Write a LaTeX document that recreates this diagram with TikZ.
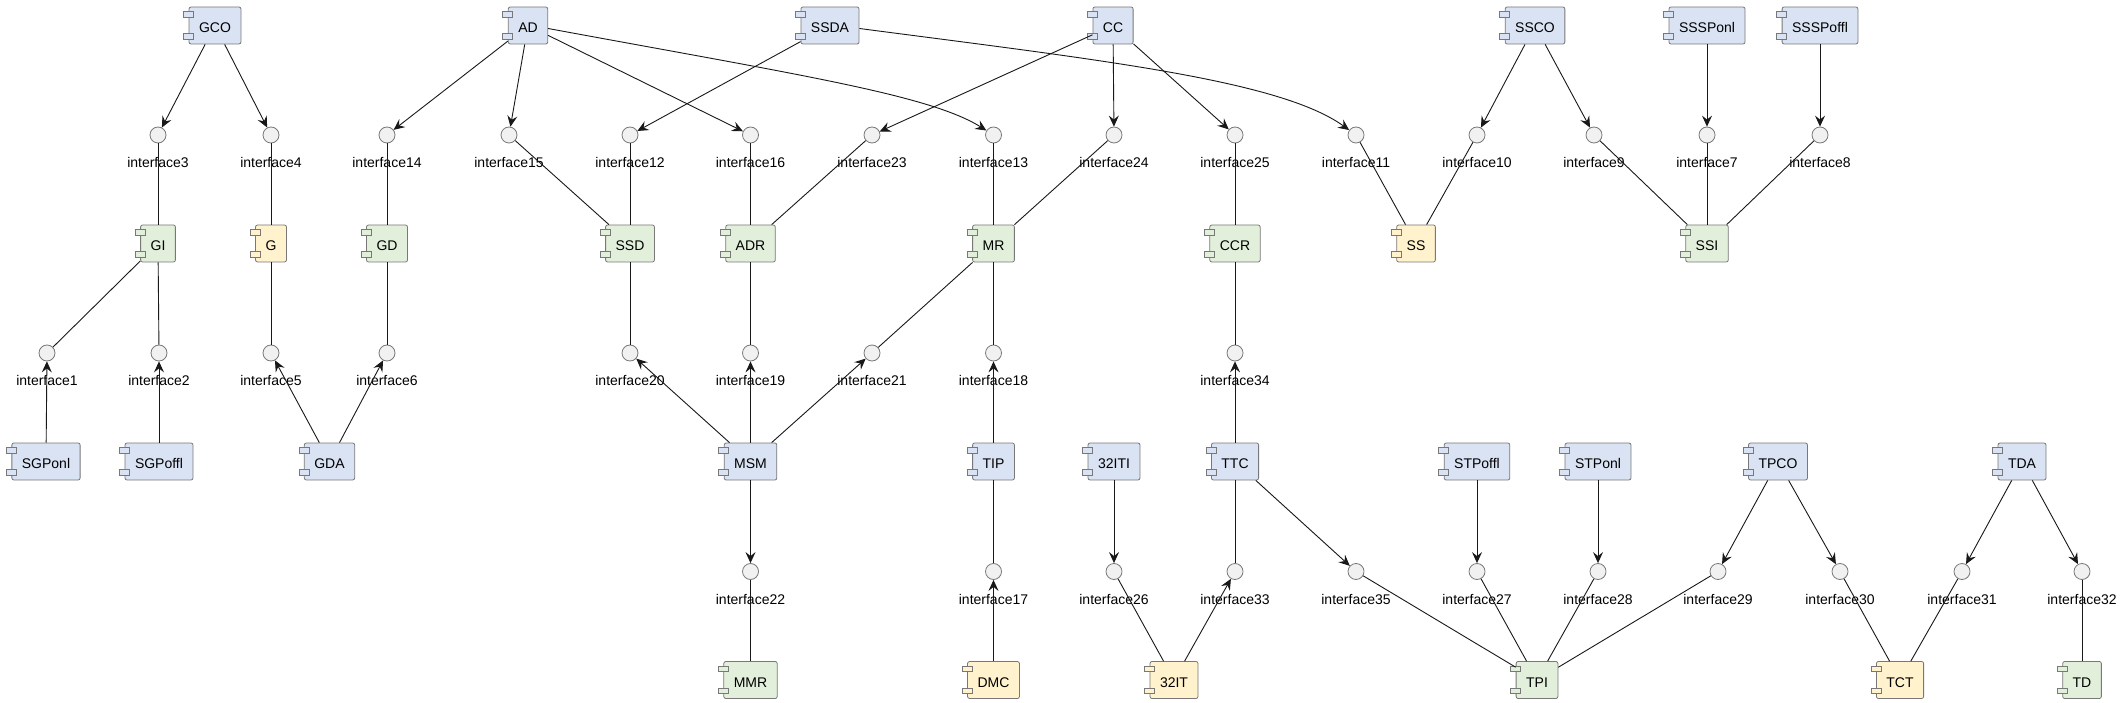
\documentclass[tikz,border=0pt]{standalone}
\usepackage{fontspec}
\setmainfont{Liberation Sans}
\usetikzlibrary{arrows.meta}
\definecolor{cblue}{RGB}{218,227,243}
\definecolor{cgreen}{RGB}{226,239,218}
\definecolor{cyellow}{RGB}{255,242,204}
\definecolor{ifill}{RGB}{241,241,241}
\definecolor{bord}{RGB}{120,120,120}
\definecolor{ln}{RGB}{24,24,24}
\newcommand\myiface[3]{\node[ifc] (if#1) at (#2,#3) {}; \node[lbl] (if#1l) at (#2,#3+32.5) {interface#1};}
\newcommand\mycomp[5]{\node[comp=#5] (#1) at (#3,#4) {#2};
  \draw[tabst,fill=#5] ([shift={(-5pt,-5pt)}]#1.north west) rectangle ++(10pt,-5.5pt);
  \draw[tabst,fill=#5] ([shift={(-5pt,-27pt)}]#1.north west) rectangle ++(10pt,-5.5pt);}
\begin{document}
\begin{tikzpicture}[x=1pt,y=-1pt,
 comp/.style={draw=bord, fill=#1, line width=0.8pt, rounded corners=2pt, minimum height=37pt, inner xsep=10pt, inner ysep=0pt, text height=14pt, text depth=0pt, font=\fontsize{14}{16}\selectfont},
 ifc/.style={circle, draw=bord, fill=ifill, line width=0.8pt, minimum size=16pt, inner sep=0pt},
 lbl/.style={anchor=base, inner sep=0pt, font=\fontsize{14}{16}\selectfont},
 arr/.style={draw=ln, line width=0.9pt, -{Stealth[length=11pt,width=10pt,inset=4pt]}},
 lnk/.style={draw=ln, line width=0.9pt},
 tabst/.style={draw=bord, line width=0.8pt}
]
\useasboundingbox (0,0) rectangle (2123,703);
% row 1
\mycomp{GCO}{GCO}{215}{25.5}{cblue}
\mycomp{AD}{AD}{528}{25.5}{cblue}
\mycomp{SSDA}{SSDA}{830}{25.5}{cblue}
\mycomp{CC}{CC}{1113}{25.5}{cblue}
\mycomp{SSCO}{SSCO}{1535}{25.5}{cblue}
\mycomp{SSSPonl}{SSSPonl}{1707}{25.5}{cblue}
\mycomp{SSSPoffl}{SSSPoffl}{1820}{25.5}{cblue}
% row 2
\myiface{3}{158}{135}
\myiface{4}{271}{135}
\myiface{14}{387}{135}
\myiface{15}{509}{135}
\myiface{12}{630}{135}
\myiface{16}{750.5}{135}
\myiface{23}{872}{135}
\myiface{13}{993.5}{135}
\myiface{24}{1114}{135}
\myiface{25}{1235}{135}
\myiface{11}{1356}{135}
\myiface{10}{1477}{135}
\myiface{9}{1594}{135}
\myiface{7}{1707}{135}
\myiface{8}{1820}{135}
% row 3
\mycomp{GI}{GI}{158}{243.5}{cgreen}
\mycomp{G}{G}{271}{243.5}{cyellow}
\mycomp{GD}{GD}{387}{243.5}{cgreen}
\mycomp{SSD}{SSD}{630}{243.5}{cgreen}
\mycomp{ADR}{ADR}{750.5}{243.5}{cgreen}
\mycomp{MR}{MR}{993.5}{243.5}{cgreen}
\mycomp{CCR}{CCR}{1235}{243.5}{cgreen}
\mycomp{SS}{SS}{1416}{243.5}{cyellow}
\mycomp{SSI}{SSI}{1707}{243.5}{cgreen}
% row 4
\myiface{1}{47}{353}
\myiface{2}{159}{353}
\myiface{5}{271}{353}
\myiface{6}{387}{353}
\myiface{20}{630}{353}
\myiface{19}{750.5}{353}
\myiface{21}{872}{353}
\myiface{18}{993.5}{353}
\myiface{34}{1235}{353}
% row 5
\mycomp{SGPonl}{SGPonl}{46}{461.5}{cblue}
\mycomp{SGPoffl}{SGPoffl}{159}{461.5}{cblue}
\mycomp{GDA}{GDA}{329.5}{461.5}{cblue}
\mycomp{MSM}{MSM}{750.5}{461.5}{cblue}
\mycomp{TIP}{TIP}{993.5}{461.5}{cblue}
\mycomp{n32ITI}{32ITI}{1114}{461.5}{cblue}
\mycomp{TTC}{TTC}{1235}{461.5}{cblue}
\mycomp{STPoffl}{STPoffl}{1477}{461.5}{cblue}
\mycomp{STPonl}{STPonl}{1598}{461.5}{cblue}
\mycomp{TPCO}{TPCO}{1778}{461.5}{cblue}
\mycomp{TDA}{TDA}{2022}{461.5}{cblue}
% row 6
\myiface{22}{750.5}{571.5}
\myiface{17}{993.5}{571.5}
\myiface{26}{1114}{571.5}
\myiface{33}{1235}{571.5}
\myiface{35}{1356}{571.5}
\myiface{27}{1477}{571.5}
\myiface{28}{1598}{571.5}
\myiface{29}{1718}{571.5}
\myiface{30}{1840}{571.5}
\myiface{31}{1962}{571.5}
\myiface{32}{2082}{571.5}
% row 7
\mycomp{MMR}{MMR}{750.5}{680}{cgreen}
\mycomp{DMC}{DMC}{993.5}{680}{cyellow}
\mycomp{n32IT}{32IT}{1174}{680}{cyellow}
\mycomp{TPI}{TPI}{1537}{680}{cgreen}
\mycomp{TCT}{TCT}{1900}{680}{cyellow}
\mycomp{TD}{TD}{2082}{680}{cgreen}
% arrows
\foreach \a/\b in {GCO/if3, GCO/if4, AD/if14, AD/if15, AD/if16, SSDA/if12, CC/if23, CC/if24, CC/if25, SSCO/if10, SSCO/if9, SSSPonl/if7, SSSPoffl/if8,
  SGPonl/if1, SGPoffl/if2, GDA/if5, GDA/if6, MSM/if20, MSM/if19, MSM/if21, TIP/if18, TTC/if34,
  MSM/if22, n32ITI/if26, TTC/if35, STPoffl/if27, STPonl/if28, TPCO/if29, TPCO/if30, TDA/if31, TDA/if32, DMC/if17, n32IT/if33}
  \draw[arr] (\a) -- (\b);
\draw[arr] ([yshift=-3pt]AD.east) .. controls (800,75) and (930,95) .. (if13);
\draw[arr] ([yshift=-3pt]SSDA.east) .. controls (1100,60) and (1280,80) .. (if11);
% plain links
\foreach \a/\b in {if3/GI, if4/G, if14/GD, if15/SSD, if12/SSD, if16/ADR, if23/ADR, if13/MR, if24/MR, if25/CCR, if11/SS, if10/SS, if9/SSI, if7/SSI, if8/SSI,
  GI/if1, GI/if2, G/if5, GD/if6, SSD/if20, ADR/if19, MR/if21, MR/if18, CCR/if34,
  TTC/if33, TIP/if17, if22/MMR, if26/n32IT, if35/TPI, if27/TPI, if28/TPI, if29/TPI, if30/TCT, if31/TCT, if32/TD}
  \draw[lnk] (\a) -- (\b);
\end{tikzpicture}
\end{document}
